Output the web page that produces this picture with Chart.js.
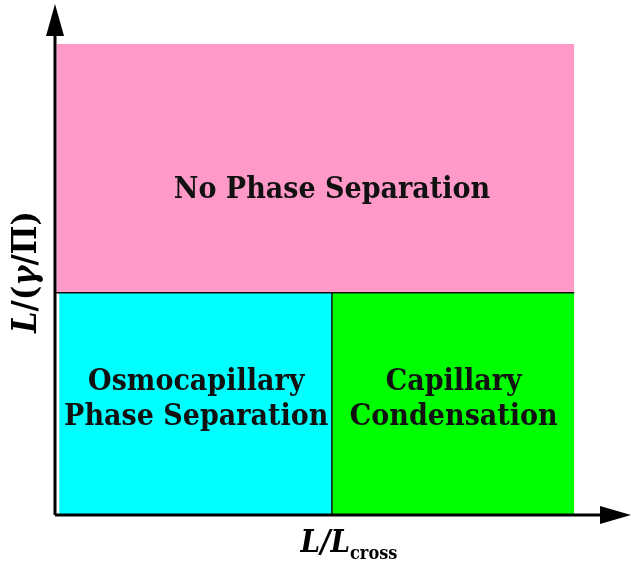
<!DOCTYPE html>
<html lang="en">
<head>
    <meta charset="UTF-8">
    <title>Phase diagram</title>
    <script src="https://cdn.jsdelivr.net/npm/chart.js"></script>
    <style>
        body { margin: 0; background: #fff; }
    </style>
</head>
<body>
    <canvas id="phaseChart" width="631" height="564"></canvas>

    <script>
        // regions in units of L/Lcross (x) and L/(gamma/Pi) (y)
        const regionNames = ['No Phase Separation', 'Osmocapillary Phase Separation', 'Capillary Condensation'];
        const regionX0 = [0.005, 0.015, 1];
        const regionX1 = [1.875, 1, 1.875];
        const regionY0 = [1, 0, 0];
        const regionY1 = [2.12, 1, 1];
        const regionColors = ['#ff99c8', '#00ffff', '#00ff00'];

        const labelLines = [['No Phase Separation'], ['Osmocapillary', 'Phase Separation'], ['Capillary', 'Condensation']];
        const labelX = [1.0, 0.51, 1.44];
        const labelY = [1.46, 0.52, 0.52];

        const boundaryX = [[0, 1.875], [1, 1]];
        const boundaryY = [[1, 1], [0, 1]];

        const xMax = 2.08;
        const yMax = 2.30;

        const datasets = [];
        regionNames.forEach((name, i) => {
            datasets.push({
                label: name,
                data: [{ x: regionX0[i], y: regionY1[i] }, { x: regionX1[i], y: regionY1[i] }],
                backgroundColor: regionColors[i],
                borderWidth: 0,
                pointRadius: 0,
                fill: { value: regionY0[i] },
                order: 2
            });
        });
        boundaryX.forEach((bx, i) => {
            datasets.push({
                label: 'boundary ' + i,
                data: bx.map((x, j) => ({ x: x, y: boundaryY[i][j] })),
                borderColor: '#111',
                borderWidth: 1.5,
                pointRadius: 0,
                fill: false,
                order: 1
            });
        });

        const serif = '"DejaVu Serif Condensed", "DejaVu Serif", serif';

        const decor = {
            id: 'decor',
            afterDraw(chart) {
                const ctx = chart.ctx;
                const xs = chart.scales.x, ys = chart.scales.y;
                const area = chart.chartArea;
                const x0 = xs.getPixelForValue(0), y0 = ys.getPixelForValue(0);

                // region labels
                ctx.save();
                ctx.fillStyle = '#111';
                ctx.textAlign = 'center';
                ctx.textBaseline = 'middle';
                ctx.font = 'bold 30px ' + serif;
                labelLines.forEach((lines, i) => {
                    const cx = xs.getPixelForValue(labelX[i]);
                    const cy = ys.getPixelForValue(labelY[i]);
                    const lh = 35;
                    lines.forEach((t, k) => {
                        ctx.fillText(t, cx, cy + (k - (lines.length - 1) / 2) * lh);
                    });
                });
                ctx.restore();

                // axes with arrows
                ctx.save();
                ctx.strokeStyle = '#000';
                ctx.fillStyle = '#000';
                ctx.lineWidth = 3;
                ctx.beginPath();
                ctx.moveTo(x0, y0);
                ctx.lineTo(area.right - 30, y0);
                ctx.moveTo(x0, y0);
                ctx.lineTo(x0, area.top + 30);
                ctx.stroke();
                ctx.beginPath();
                ctx.moveTo(area.right, y0);
                ctx.lineTo(area.right - 31, y0 - 9);
                ctx.lineTo(area.right - 31, y0 + 9);
                ctx.closePath();
                ctx.fill();
                ctx.beginPath();
                ctx.moveTo(x0, area.top);
                ctx.lineTo(x0 - 9, area.top + 32);
                ctx.lineTo(x0 + 9, area.top + 32);
                ctx.closePath();
                ctx.fill();
                ctx.restore();

                // axis titles
                ctx.save();
                ctx.fillStyle = '#000';
                ctx.textBaseline = 'alphabetic';
                const big = 'italic bold 31px ' + serif;
                const up = 'bold 31px ' + serif;
                const small = 'bold 18px ' + serif;
                const xParts = [['L/L', big, 0], ['cross', small, 7]];
                let w = 0;
                xParts.forEach(p => { ctx.font = p[1]; w += ctx.measureText(p[0]).width; });
                let px = 349 - w / 2;
                xParts.forEach(p => {
                    ctx.font = p[1];
                    ctx.fillText(p[0], px, 552 + p[2]);
                    px += ctx.measureText(p[0]).width;
                });

                const ybig = 'italic bold 34px ' + serif;
                const yup = 'bold 34px ' + serif;
                const yParts = [['L', ybig], ['/(', yup], ['γ', ybig], ['/Π)', yup]];
                ctx.translate(36, 272);
                ctx.rotate(-Math.PI / 2);
                w = 0;
                yParts.forEach(p => { ctx.font = p[1]; w += ctx.measureText(p[0]).width; });
                px = -w / 2;
                yParts.forEach(p => {
                    ctx.font = p[1];
                    ctx.fillText(p[0], px, 0);
                    px += ctx.measureText(p[0]).width;
                });
                ctx.restore();
            }
        };

        new Chart(document.getElementById('phaseChart').getContext('2d'), {
            type: 'line',
            data: { datasets: datasets },
            options: {
                responsive: false,
                animation: false,
                layout: { padding: { left: 55, right: 0, top: 4, bottom: 49 } },
                plugins: { legend: { display: false }, tooltip: { enabled: false } },
                scales: {
                    x: { type: 'linear', min: 0, max: xMax, display: false },
                    y: { type: 'linear', min: 0, max: yMax, display: false }
                }
            },
            plugins: [decor]
        });
    </script>
</body>
</html>
